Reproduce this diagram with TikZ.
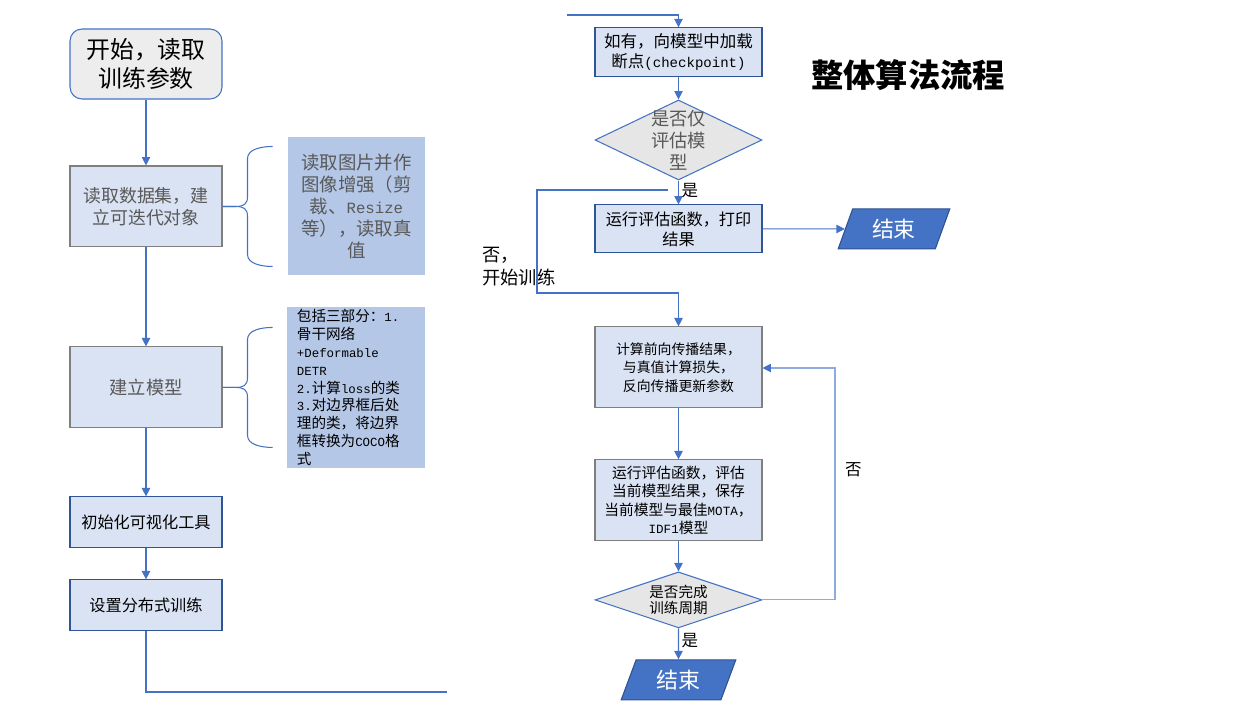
\documentclass[tikz,border=0pt]{standalone}
\usepackage{fontspec}
\setmainfont{Noto Sans CJK SC}
\newfontfamily\codefont{Liberation Mono}[Scale=0.85]
\usetikzlibrary{positioning,shapes.geometric,arrows.meta,calc}

\definecolor{linkblue}{HTML}{4472C4}
\definecolor{endborder}{HTML}{2F528F}
\definecolor{darkborder}{HTML}{2F5597}
\definecolor{grayborder}{HTML}{7F7F7F}
\definecolor{boxfill}{HTML}{DAE3F3}
\definecolor{notefill}{HTML}{B4C7E7}
\definecolor{decfill}{HTML}{E7E6E6}
\definecolor{startfill}{HTML}{EDEDED}
\definecolor{looplight}{HTML}{8FAADC}
\definecolor{graytext}{HTML}{595959}

\tikzstyle{startbox}=[rectangle, rounded corners=0.24cm, draw=linkblue, fill=startfill, align=center, minimum width=3.04cm, minimum height=1.4cm, font=\fontsize{13.6}{17}\selectfont]
\tikzstyle{graybox}=[rectangle, draw=grayborder, fill=boxfill, align=center, minimum width=3.04cm, minimum height=1.62cm, text=graytext]
\tikzstyle{bluebox}=[rectangle, draw=darkborder, fill=boxfill, align=center, minimum width=3.04cm, minimum height=1.02cm, font=\fontsize{9.2}{11.3}\selectfont]
\tikzstyle{notebox}=[rectangle, fill=notefill, inner sep=0pt]
\tikzstyle{decision}=[diamond, aspect=2.1, draw=linkblue, fill=decfill, inner sep=0pt, align=center, minimum width=3.34cm]
\tikzstyle{finish}=[trapezium, trapezium left angle=73, trapezium right angle=107, trapezium stretches=true, draw=endborder, fill=linkblue, text=white, minimum width=2.24cm, minimum height=0.8cm, font=\fontsize{12.5}{14}\selectfont]
\tikzstyle{myarrow}=[-{Triangle[length=4.8pt,width=4.8pt,color=linkblue]}, draw=linkblue]
\tikzstyle{myline}=[draw=linkblue]
\tikzstyle{yesno}=[font=\fontsize{9.4}{11}\selectfont, inner sep=1.5pt]

\begin{document}
\begin{tikzpicture}[x=0.02cm, y=-0.02cm, line width=0.6pt, node distance=2cm]

        \useasboundingbox (0,0) rectangle (1245,717);

        % Preparation
        \node (start) [startbox] at (146,64) {开始，读取\\训练参数};
        \node (readdata) [graybox, below of=start, node distance=2.85cm, font=\fontsize{10.2}{12.3}\selectfont] {读取数据集，建\\立可迭代对象};
        \node (augment) [notebox, right of=readdata, node distance=4.21cm, minimum width=2.74cm, minimum height=2.76cm, align=center, text=graytext, font=\fontsize{10.5}{12.5}\selectfont] {读取图片并作\\图像增强（剪\\裁、{\codefont Resize}\\等），读取真\\值};

        \node (buildmodel) [graybox, below of=readdata, node distance=3.62cm, font=\fontsize{10.4}{12}\selectfont] {建立模型};
        \node (modelparts) [notebox, right of=buildmodel, node distance=4.2cm, minimum width=2.76cm, minimum height=3.22cm, text width=2.36cm, align=left, font=\fontsize{8.3}{10.2}\selectfont] {包括三部分：{\codefont 1.}\\骨干网络\\{\codefont +Deformable}\\{\codefont DETR}\\{\codefont 2.}计算{\codefont loss}的类\\{\codefont 3.}对边界框后处\\理的类，将边界\\框转换为{\codefont COCO}格\\式};

        \node (initvis) [bluebox, below of=buildmodel, node distance=2.7cm] {初始化可视化工具};
        \node (distrib) [bluebox, below of=initvis, node distance=1.66cm] {设置分布式训练};
        \coordinate (leftend) at (447,692);

        % Checkpoint and evaluation only
        \coordinate (rightstart) at (567,15);
        \node (ckpt) [bluebox, minimum width=3.34cm, minimum height=0.92cm, font=\fontsize{9.4}{11.3}\selectfont] at (678.5,52) {如有，向模型中加载\\断点{\codefont (checkpoint)}};
        \node (evalonly) [decision, below of=ckpt, node distance=1.76cm, minimum height=1.6cm, label={[text=graytext, align=center, font=\fontsize{10.4}{12.5}\selectfont]center:是否仅\\评估模\\型}] {};
        \node (evalprint) [bluebox, below of=evalonly, node distance=1.78cm, minimum width=3.34cm, minimum height=0.96cm] {运行评估函数，打印\\结果};
        \node (end1) [finish, right of=evalprint, node distance=4.31cm] {结束};

        \node (title) [font=\fontsize{18.4}{22}\selectfont\bfseries] at (908,75) {整体算法流程};

        \coordinate (nostart) at (668,190);
        \coordinate (nobend) at (537,293);
        \node (trainstart) [anchor=west, align=left, font=\fontsize{10.4}{13}\selectfont] at (476,267) {否，\\开始训练};

        % Training loop
        \node (train) [graybox, below of=evalprint, node distance=2.77cm, minimum width=3.34cm, text=black, font=\fontsize{7.9}{10.4}\selectfont] {计算前向传播结果，\\与真值计算损失，\\反向传播更新参数};
        \node (evaluate) [graybox, below of=train, node distance=2.66cm, minimum width=3.34cm, text=black, font=\fontsize{8.4}{10.4}\selectfont] {运行评估函数，评估\\当前模型结果，保存\\当前模型与最佳{\codefont MOTA}，\\{\codefont IDF1}模型};
        \node (epochdone) [decision, aspect=3, below of=evaluate, node distance=1.99cm, minimum height=1.12cm, font=\fontsize{8.3}{9.4}\selectfont] {是否完成\\训练周期};
        \node (end2) [finish, below of=epochdone, node distance=1.6cm, minimum width=2.3cm] {结束};
        \coordinate (loopcorner) at (835,368);

        %Braces
        \draw[myline] (readdata.east) -- ++(13,0) .. controls +(8,0) and +(0,8) .. ++(12,-10) -- ++(0,-38) .. controls +(0,-9) and +(-12,0) .. ++(25,-12);
        \draw[myline] (readdata.east) -- ++(13,0) .. controls +(8,0) and +(0,-8) .. ++(12,10) -- ++(0,38) .. controls +(0,9) and +(-12,0) .. ++(25,12);
        \draw[myline] (buildmodel.east) -- ++(13,0) .. controls +(8,0) and +(0,8) .. ++(12,-10) -- ++(0,-38) .. controls +(0,-9) and +(-12,0) .. ++(25,-12);
        \draw[myline] (buildmodel.east) -- ++(13,0) .. controls +(8,0) and +(0,-8) .. ++(12,10) -- ++(0,38) .. controls +(0,9) and +(-12,0) .. ++(25,12);

        %Arrows
        \draw[myarrow] (start) -- (readdata);
        \draw[myarrow] (readdata) -- (buildmodel);
        \draw[myarrow] (buildmodel) -- (initvis);
        \draw[myarrow] (initvis) -- (distrib);
        \draw[myline] (distrib) |- (leftend);

        \draw[myarrow] (rightstart) -| (ckpt.north);
        \draw[myarrow] (ckpt) -- (evalonly);
        \draw[myarrow] (evalonly) -- node[yesno, right, pos=0.4] {是} (evalprint);
        \draw[myarrow] (evalprint) -- (end1);
        \draw[myarrow] (nostart) -| (nobend) -| (train.north);

        \draw[myarrow] (train) -- (evaluate);
        \draw[myarrow] (evaluate) -- (epochdone);
        \draw[myarrow, draw=looplight] (epochdone.east) -| node[yesno, pos=0.78, right, xshift=4pt] {否} (loopcorner) -- (loopcorner -| train.east);
        \draw[myarrow] (epochdone) -- node[yesno, right, pos=0.4] {是} (end2);

\end{tikzpicture}
\end{document}
